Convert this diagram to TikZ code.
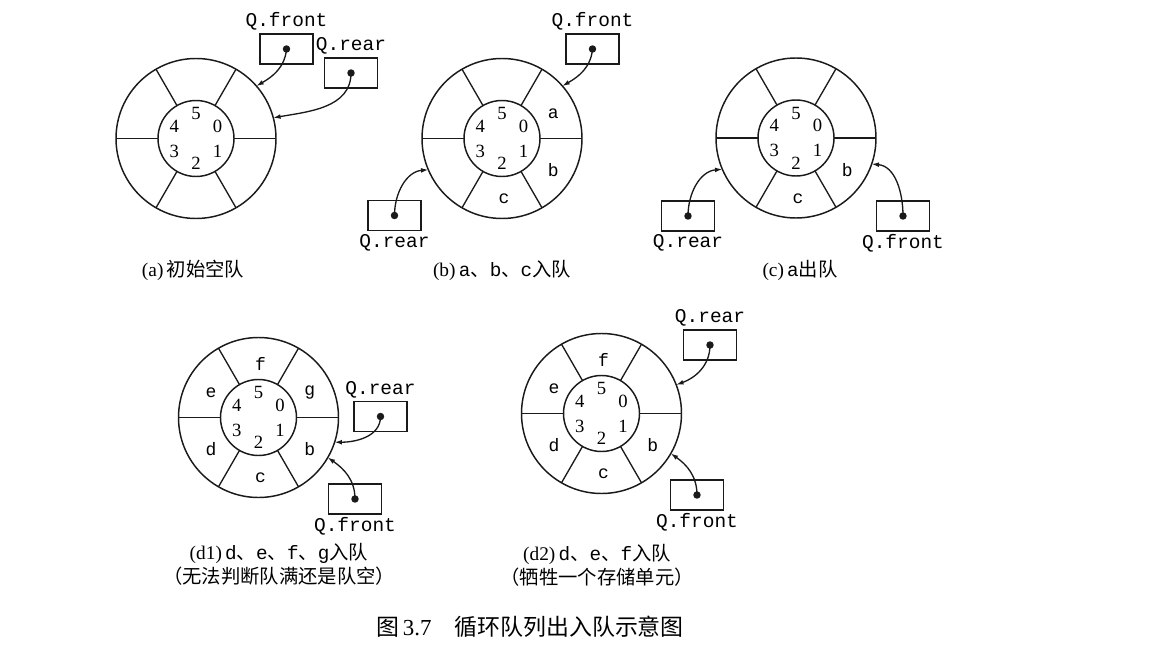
\documentclass[tikz,border=0pt]{standalone}
\usepackage{fontspec}
\setmainfont{Liberation Serif}
\setmonofont{Liberation Mono}
\newfontfamily\cjk{Noto Sans CJK SC}
\usetikzlibrary{arrows.meta,positioning}
\definecolor{inkmain}{HTML}{1A1A1A}
\tikzset{every node/.append style={font=\rmfamily}}

% ring with six cells and the slot numbers 0..5
\newcommand\cqring[2]{%
  \node[ringo] (#1o) at (#2) {};
  \node[ringi] (#1i) at (#2) {};
  \foreach \a in {0,60,...,300} \draw[inkmain,line width=1pt] (#1i.\a) -- (#1o.\a);
  \foreach \i in {0,...,5} \path (#2) ++(30-60*\i:25) node[digit] (#1d\i) {\i};
}

\begin{document}
\begin{tikzpicture}[x=.75pt,y=.75pt,
    ringo/.style={circle,draw=inkmain,line width=1.1pt,inner sep=0pt,outer sep=0pt,minimum size=120pt},
    ringi/.style={circle,draw=inkmain,line width=1.1pt,inner sep=0pt,outer sep=0pt,minimum size=57pt},
    digit/.style={inner sep=0pt,font=\fontsize{14}{15}\selectfont},
    cell/.style={inner sep=0pt,xshift=1.5pt,yshift=-2.5pt,font=\fontsize{13.5}{15}\ttfamily},
    ptr/.style={draw=inkmain,line width=1pt,minimum width=39.75pt,minimum height=22.5pt,inner sep=0pt},
    ptrdot/.style={circle,fill=inkmain,inner sep=0pt,minimum size=5.6pt},
    lbl/.style={inner sep=1pt,font=\fontsize{14.6}{16}\ttfamily},
    link/.style={-{Latex[length=5.5pt,width=3.6pt]},inkmain,line width=1pt},
    capt/.style={inner sep=0pt,align=center,font=\fontsize{14.5}{18}\selectfont}]
  \useasboundingbox (0,0) rectangle (1160,-656);

  % (a)
  \cqring{qa}{196,-138.5}
  \node[ptr] (qaf) at (286.5,-49) {};
  \node[ptrdot] (qafd) at (qaf.center) {};
  \node[lbl,above=1pt of qaf] (qafl) {Q.front};
  \node[ptr] (qar) at (351,-73) {};
  \node[ptrdot] (qard) at (qar.center) {};
  \node[lbl,above=1pt of qar] (qarl) {Q.rear};
  \draw[link] (qafd.center) to[out=-95,in=30] (qao.41);
  \draw[link] (qard.center) to[out=-90,in=10] (qao.15);
  \node[capt] (capa) at (193,-270) {(a)\,{\cjk 初始空队}};

  % (b)
  \cqring{qb}{502,-138.5}
  \foreach \i/\t in {0/a,1/b,2/c} \path (qbo.center) ++(30-60*\i:57) node[cell] (qbc\i) {\t};
  \node[ptr] (qbf) at (592.5,-49) {};
  \node[ptrdot] (qbfd) at (qbf.center) {};
  \node[lbl,above=1pt of qbf] (qbfl) {Q.front};
  \node[ptr] (qbr) at (394.5,-215.5) {};
  \node[ptrdot] (qbrd) at (qbr.center) {};
  \node[lbl,below=1pt of qbr] (qbrl) {Q.rear};
  \draw[link] (qbfd.center) to[out=-95,in=30] (qbo.41);
  \draw[link] (qbrd.center) to[out=90,in=185] (qbo.203);
  \node[capt] (capb) at (502,-270) {(b)\,{\cjk\texttt{a}、\texttt{b}、\texttt{c}入队}};

  % (c)
  \cqring{qc}{796,-138}
  \foreach \i/\t in {1/b,2/c} \path (qco.center) ++(30-60*\i:57) node[cell] (qcc\i) {\t};
  \node[ptr] (qcr) at (688,-216) {};
  \node[ptrdot] (qcrd) at (qcr.center) {};
  \node[lbl,below=1pt of qcr] (qcrl) {Q.rear};
  \node[ptr] (qcf) at (903,-216) {};
  \node[ptrdot] (qcfd) at (qcf.center) {};
  \node[lbl,below=1pt of qcf] (qcfl) {Q.front};
  \draw[link] (qcrd.center) to[out=90,in=185] (qco.203);
  \draw[link] (qcfd.center) to[out=90,in=-5] (qco.-19);
  \node[capt] (capc) at (800,-270) {(c)\,{\cjk\texttt{a}出队}};

  % (d1)
  \cqring{qd}{258.5,-417.5}
  \foreach \i/\t in {0/g,1/b,2/c,3/d,4/e,5/f} \path (qdo.center) ++(30-60*\i:57) node[cell] (qdc\i) {\t};
  \node[ptr] (qdr) at (380.5,-416.5) {};
  \node[ptrdot] (qdrd) at (qdr.center) {};
  \node[lbl,above=1pt of qdr] (qdrl) {Q.rear};
  \node[ptr] (qdf) at (355,-499) {};
  \node[ptrdot] (qdfd) at (qdf.center) {};
  \node[lbl,below=1pt of qdf] (qdfl) {Q.front};
  \draw[link] (qdrd.center) to[out=-90,in=0] (qdo.-18);
  \draw[link] (qdfd.center) to[out=90,in=-35] (qdo.-30);
  \node[capt] (capd) at (279,-564) {(d1)\,{\cjk\texttt{d}、\texttt{e}、\texttt{f}、\texttt{g}入队}\\{\cjk（无法判断队满还是队空）}};

  % (d2)
  \cqring{qe}{601.5,-413.5}
  \foreach \i/\t in {1/b,2/c,3/d,4/e,5/f} \path (qeo.center) ++(30-60*\i:57) node[cell] (qec\i) {\t};
  \node[ptr] (qer) at (710,-345) {};
  \node[ptrdot] (qerd) at (qer.center) {};
  \node[lbl,above=1pt of qer] (qerl) {Q.rear};
  \node[ptr] (qef) at (697,-495) {};
  \node[ptrdot] (qefd) at (qef.center) {};
  \node[lbl,below=1pt of qef] (qefl) {Q.front};
  \draw[link] (qerd.center) to[out=-90,in=20] (qeo.21);
  \draw[link] (qefd.center) to[out=90,in=-35] (qeo.-30);
  \node[capt] (cape) at (597,-565) {(d2)\,{\cjk\texttt{d}、\texttt{e}、\texttt{f}入队}\\{\cjk（牺牲一个存储单元）}};

  \node[capt,font=\fontsize{17.2}{19}\selectfont] (title) at (530,-627) {{\cjk 图}\,3.7\quad{\cjk 循环队列出入队示意图}};
\end{tikzpicture}
\end{document}
